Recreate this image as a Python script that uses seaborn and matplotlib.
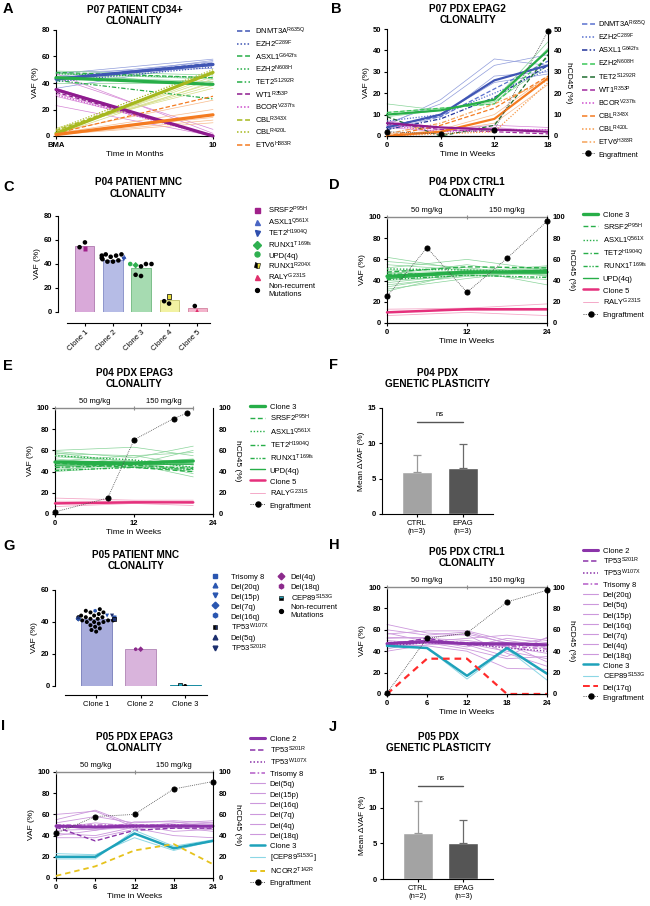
import numpy as np
import pandas as pd
import seaborn as sns
import matplotlib.pyplot as plt
from matplotlib.lines import Line2D
from matplotlib.markers import MarkerStyle

sns.set_style("ticks")
plt.rcParams['font.family'] = ['Liberation Sans', 'DejaVu Sans']
plt.rcParams['mathtext.fontset'] = 'custom'
plt.rcParams['mathtext.rm'] = 'Liberation Sans'
plt.rcParams['mathtext.it'] = 'Liberation Sans:italic'
plt.rcParams['mathtext.bf'] = 'Liberation Sans:bold'
plt.rcParams['axes.linewidth'] = 0.8
plt.rcParams['axes.edgecolor'] = 'black'
plt.rcParams['xtick.color'] = 'black'
plt.rcParams['ytick.color'] = 'black'
plt.rcParams['text.color'] = 'black'
plt.rcParams['axes.labelcolor'] = 'black'


def sup(name, variant):
    return name + r'$^{\mathregular{' + variant + '}}$'


# ---------------- data ----------------
# A  P07 patient CD34+
a_time = [0, 10]
a_time_labels = ['BMA', '10']
a_blue_thin = [[47, 58], [45, 56], [36, 55], [44, 53], [48, 51], [42, 57]]
a_green_thin = [[48, 38], [45, 41], [47, 43], [40, 40], [49, 46]]
a_purple_thin = [[47, 2], [23, 0], [32, 0], [30, 1], [36, 0], [44, 5]]
a_olive_thin = [[3, 43], [4, 40], [2, 45], [5, 38], [6, 36], [1, 41]]
a_orange_thin = [[1, 10], [2, 14], [1, 12], [3, 27], [2, 20]]
a_clone_vals = [[43, 54], [44, 39], [35, 0], [2, 48], [1, 16]]
a_named_labels = [sup('DNMT3A', 'R635Q'), sup('EZH2', 'C289F'), sup('ASXL1', 'G642fs'),
                  sup('EZH2', 'N608H'), sup('TET2', 'S1292R'), sup('WT1', 'R353P'),
                  sup('BCOR', 'V237fs'), sup('CBL', 'R343X'), sup('CBL', 'R420L'),
                  sup('ETV6', 'H383R')]
a_named_vals = [[43, 55], [41, 52], [48, 44], [47, 44], [42, 28], [33, 0], [31, 0],
                [4, 47], [5, 50], [2, 30]]

# B  P07 PDX EPAG2
b_time = [0, 6, 12, 18]
b_engraft = [2, 1, 3, 49]
b_blue_thin = [[5, 17, 36, 33], [6, 15, 33, 38], [4, 10, 25, 29], [3, 9, 28, 30]]
b_green_thin = [[15, 12, 17, 44], [9, 12, 16, 33], [11, 13, 15, 41]]
b_orange_thin = [[0, 3, 10, 28], [1, 2, 6, 24]]
b_purple_thin = [[5, 3, 5, 4], [7, 4, 3, 3], [4, 2, 4, 2]]
b_clone_vals = [[4, 10, 26, 33], [10, 12, 17, 40], [0, 2, 8, 27], [6, 4, 3, 2]]
b_named_labels = a_named_labels
b_named_vals = [[5, 9, 22, 35], [7, 10, 20, 31], [3, 8, 18, 33], [11, 13, 15, 37],
                [9, 0, 5, 38], [6, 3, 2, 1], [5, 2, 3, 3], [0, 5, 13, 28],
                [0, 1, 2, 25], [1, 6, 15, 26]]

# C  P04 patient MNC
c_clones = ['Clone 1', 'Clone 2', 'Clone 3', 'Clone 4', 'Clone 5']
c_vaf = [55, 43, 37, 10, 3]
c_nonrec_vaf = [[58, 54], [48, 48, 47, 46, 45, 44, 43, 42, 42, 47], [40, 40, 38, 31, 30],
                [7, 9], [5]]
c_mut_labels = [sup('SRSF2', 'P95H'), sup('ASXL1', 'Q561X'), sup('TET2', 'H1904Q'),
                sup('RUNX1', 'T169fs'), 'UPD(4q)', sup('RUNX1', 'R204X'), sup('RALY', 'G231S')]
c_mut_clone = [0, 1, 1, 2, 2, 3, 4]
c_mut_vaf = [53, 46, 44, 39, 40, 13, 1]

# D  P04 PDX CTRL1
d_time = [0, 12, 24]
d_engraft_time = [0, 6, 12, 18, 24]
d_engraft = [25, 71, 29, 61, 96]
d_dose = [0, 12, 24]
d_green_thin = [[62, 50, 36], [58, 52, 45], [52, 60, 50], [50, 48, 54], [48, 46, 52],
                [46, 55, 44], [44, 48, 46], [42, 50, 50], [40, 45, 47], [38, 46, 41],
                [36, 44, 48], [34, 46, 53], [32, 42, 50], [30, 48, 45], [55, 50, 47]]
d_clone3 = [44, 48, 48]
d_named_vals = [[48, 53, 52], [51, 50, 48], [46, 47, 50], [41, 45, 43], [42, 47, 50]]
d_clone5 = [10, 13, 13]
d_raly = [[13, 14, 18], [11, 12, 12], [7, 10, 7]]

# E  P04 PDX EPAG3
e_time = [0, 12, 21]
e_engraft_time = [0, 8, 12, 18, 20]
e_engraft = [2, 15, 70, 90, 95]
e_dose = [0, 12, 21]
e_green_thin = [[60, 63, 55], [59, 53, 64], [58, 48, 52], [56, 47, 60], [54, 50, 44],
                [52, 45, 48], [50, 55, 46], [47, 46, 42], [45, 44, 49], [43, 50, 38],
                [42, 47, 35], [41, 48, 40], [40, 45, 44], [57, 55, 58]]
e_clone3 = [49, 48, 50]
e_named_vals = [[48, 44, 40], [55, 51, 44], [44, 46, 43], [41, 44, 42], [46, 47, 47]]
e_clone5 = [10, 11, 11]
e_raly = [[15, 13, 13], [12, 12, 10], [7, 10, 8]]

de_labels = ['Clone 3', sup('SRSF2', 'P95H'), sup('ASXL1', 'Q561X'), sup('TET2', 'H1904Q'),
             sup('RUNX1', 'T169fs'), 'UPD(4q)', 'Clone 5', sup('RALY', 'G231S'), 'Engraftment']
dose_labels = ['50 mg/kg', '150 mg/kg']

# F / J  genetic plasticity
f_groups = ['CTRL\n(n=3)', 'EPAG\n(n=3)']
f_mean = [6.0, 6.5]
f_err = [2.4, 3.4]
f_ns = 13
j_groups = ['CTRL\n(n=2)', 'EPAG\n(n=3)']
j_mean = [6.4, 5.1]
j_err = [4.6, 3.2]
j_ns = 13

# G  P05 patient MNC
g_clones = ['Clone 1', 'Clone 2', 'Clone 3']
g_vaf = [42, 23, 0.5]
g_nonrec_vaf = [[42, 42, 41, 40, 40, 43, 44, 45, 46, 47, 48, 46, 44, 43, 42, 41, 39, 38,
                 37, 36, 35, 34, 43, 40, 41], [], [0]]
g_mut_labels = ['Trisomy 8', 'Del(20q)', 'Del(15p)', 'Del(7q)', 'Del(16q)',
                sup('TP53', 'W107X'), 'Del(5q)', sup('TP53', 'S201R'),
                'Del(4q)', 'Del(18q)', sup('CEP89', 'S153G')]
g_mut_clone = [0, 0, 0, 0, 0, 0, 0, 0, 1, 1, 2]
g_mut_vaf = [43, 43, 44, 42, 47, 42, 43, 44, 23, 23, 0.5]

# H  P05 PDX CTRL1
h_time = [0, 6, 12, 18, 24]
h_engraft = [1, 52, 57, 86, 97]
h_dose = [0, 12, 24]
h_purple_thin = [[65, 57, 55, 38, 26], [60, 55, 58, 47, 30], [56, 59, 59, 50, 45],
                 [53, 52, 50, 45, 52], [50, 47, 48, 44, 38], [48, 50, 46, 35, 53],
                 [46, 45, 40, 24, 23], [44, 48, 42, 33, 35], [42, 50, 44, 52, 48],
                 [52, 53, 56, 48, 43], [40, 46, 47, 40, 33], [57, 49, 52, 55, 50]]
h_clone2 = [47, 49, 47, 47, 46]
h_named_vals = [[46, 52, 46, 46, 45], [45, 48, 47, 43, 40], [48, 50, 48, 45, 42]]
h_clone3 = [45, 43, 17, 43, 19]
h_cep89 = [[45, 43, 14, 42, 13]]
h_del17q = [0, 33, 33, 0, 0]
h_labels = ['Clone 2', sup('TP53', 'S201R'), sup('TP53', 'W107X'), 'Trisomy 8', 'Del(20q)',
            'Del(5q)', 'Del(15p)', 'Del(16q)', 'Del(7q)', 'Del(4q)', 'Del(18q)', 'Clone 3',
            sup('CEP89', 'S153G'), 'Del(17q)', 'Engraftment']

# I  P05 PDX EPAG3
i_time = [0, 6, 12, 18, 24]
i_engraft = [42, 58, 60, 84, 91]
i_dose = [0, 12, 24]
i_purple_thin = [[60, 63, 48, 50, 52], [55, 64, 50, 44, 46], [52, 58, 52, 54, 52],
                 [50, 45, 53, 53, 48], [45, 46, 47, 40, 38], [42, 40, 48, 52, 54],
                 [40, 45, 50, 48, 44], [38, 38, 46, 50, 46], [47, 52, 49, 47, 50]]
i_clone2 = [49, 48, 49, 49, 49]
i_named_vals = [[48, 35, 45, 47, 47], [47, 49, 48, 50, 48], [50, 50, 50, 50, 48]]
i_clone3 = [20, 20, 42, 28, 35]
i_cep89 = [[23, 22, 38, 26, 35], [18, 18, 45, 30, 36]]
i_ncor2 = [2, 11, 26, 32, 13]
i_labels = ['Clone 2', sup('TP53', 'S201R'), sup('TP53', 'W107X'), 'Trisomy 8', 'Del(5q)',
            'Del(15p)', 'Del(16q)', 'Del(7q)', 'Del(4q)', 'Del(18q)', 'Clone 3',
            '[' + sup('CEP89', 'S153G') + ']', sup('NCOR2', 'T142R'), 'Engraftment']

# ---------------- styles ----------------
BLUE, BLUE_T = '#3f55b4', '#8f9cdb'
GREEN, GREEN_T = '#27ae48', '#8ad49a'
PURPLE, PURPLE_T = '#8e1b8e', '#d585d5'
OLIVE, OLIVE_T = '#a6b81e', '#d5de88'
ORANGE, ORANGE_T = '#f47b20', '#f8bb8c'
PINK, PINK_T = '#e5307c', '#f4a9c8'
VIOLET, VIOLET_T = '#8b34a9', '#cc98dc'
TEAL, TEAL_T = '#1ea2ba', '#8cd7e5'
RED, YELLOW = '#ff2b2b', '#e6c21c'

DASH = (0, (3.5, 1.8))
DOT = (0, (1, 1.3))
DASHDOT = (0, (3.5, 1.5, 1, 1.5))
DASHDOTDOT = (0, (3, 1.2, 1, 1.2, 1, 1.2))

W, H, DPI = 650, 906, 100
fig = plt.figure(figsize=(W / DPI, H / DPI), dpi=DPI)
fig.patch.set_facecolor('white')


def add_ax(l, t, r, b):
    return fig.add_axes([l / W, 1 - b / H, (r - l) / W, (b - t) / H])


def draw(ax, x, rows, color, lw, ls='-', z=2):
    df = pd.DataFrame({'t': np.tile(x, len(rows)), 'v': np.ravel(rows),
                       'id': np.repeat(np.arange(len(rows)), len(x))})
    sns.lineplot(data=df, x='t', y='v', units='id', estimator=None, color=color, lw=lw,
                 ls=ls, ax=ax, legend=False, zorder=z, clip_on=False)


def bold_ticks(ax, xbold=True):
    ax.tick_params(labelsize=5.5, length=2.5, width=0.8, pad=1.5)
    for t in ax.get_yticklabels():
        t.set_fontweight('bold')
    if xbold:
        for t in ax.get_xticklabels():
            t.set_fontweight('bold')


def frame(ax, xlim, xticks, xlabels, ylim, yticks, xlabel):
    ax.set_xlim(xlim)
    ax.set_ylim(ylim)
    ax.set_xticks(xticks, xlabels)
    ax.set_yticks(yticks)
    ax.set_xlabel(xlabel, fontsize=6, labelpad=2)
    ax.set_ylabel('VAF (%)', fontsize=6, labelpad=2)
    sns.despine(ax=ax)
    bold_ticks(ax)


def engraft(ax, t, v, ylim, yticks):
    ax2 = ax.twinx()
    sns.lineplot(x=t, y=v, ax=ax2, color='#4a4a4a', lw=0.6, ls=DOT, marker='o',
                 markersize=3.6, mfc='black', mec='black', zorder=5, clip_on=False)
    ax2.set_ylim(ylim)
    ax2.set_yticks(yticks)
    ax2.set_ylabel('hCD45 (%)', rotation=270, fontsize=6, labelpad=7)
    sns.despine(ax=ax2, left=True, right=False)
    bold_ticks(ax2)
    return ax2


def dose_bar(ax, bounds):
    ax.plot(bounds, [100] * len(bounds), color='#8c8c8c', lw=1.0, marker='|', ms=3,
            mew=0.8, clip_on=False, zorder=6)
    mids = (np.array(bounds[:-1]) + np.array(bounds[1:])) / 2
    for m, txt in zip(mids, dose_labels):
        ax.text(m, 102.5, txt, ha='center', va='bottom', fontsize=5.5)


def L(color, lw=1.1, ls='-', **kw):
    return Line2D([], [], color=color, lw=lw, ls=ls, **kw)


ENG = Line2D([], [], color='#4a4a4a', lw=0.7, ls=DOT, marker='o', ms=3.6,
             mfc='black', mec='black')


def put_legend(ax, handles, labels, x, y, pitch, hl=1.8, htp=0.65, fs=5.5):
    fpx = fs * DPI / 72
    hh = 1.5
    lg = ax.legend(handles, labels, loc='upper left', bbox_to_anchor=(x / W, 1 - y / H),
                   bbox_transform=fig.transFigure, frameon=False, fontsize=fs,
                   handlelength=hl, handleheight=hh, handletextpad=htp,
                   labelspacing=max(pitch - hh * fpx, 0) / fpx, borderpad=0,
                   borderaxespad=0)
    return lg


def title(ax, txt, pad):
    ax.set_title(txt, fontsize=7.2, fontweight='bold', pad=pad, linespacing=1.15)


def marker_path(m):
    ms = MarkerStyle(m)
    return ms.get_path().transformed(ms.get_transform())


def swarm(ax, clones, nonrec, mclone, mvaf, mlabels, mcolors, mmarkers, medge, size):
    rows = []
    for ci, vals in enumerate(nonrec):
        rows += [(clones[ci], v, 'nonrec') for v in vals]
    rows += [(clones[c], v, k) for c, v, k in zip(mclone, mvaf, mlabels)]
    df = pd.DataFrame(rows, columns=['clone', 'vaf', 'kind'])
    pal = dict(zip(mlabels, mcolors))
    pal['nonrec'] = 'black'
    mk = dict(zip(mlabels, mmarkers))
    mk['nonrec'] = 'o'
    ed = dict(zip(mlabels, medge))
    ed['nonrec'] = None
    n0 = len(ax.collections)
    sns.swarmplot(data=df, x='clone', y='vaf', hue='kind', palette=pal, order=clones,
                  size=size, ax=ax, legend=False, linewidth=0, zorder=3)
    for coll in ax.collections[n0:]:
        offs = coll.get_offsets()
        if len(offs) == 0:
            continue
        ci = int(round(offs[0][0]))
        sub = df[df['clone'] == clones[ci]]
        coll.set_paths([marker_path(mk[k]) for k in sub['kind']])
        coll.set_edgecolors([ed[k] if ed[k] else (0, 0, 0, 0) for k in sub['kind']])
        coll.set_linewidth(0.5)


def letter(x, y, s):
    fig.text(x / W, 1 - y / H, s, fontsize=10.5, fontweight='bold', va='center', ha='left')


# ---------------- A ----------------
axA = add_ax(56, 30, 213, 136)
for rows, c in zip([a_blue_thin, a_green_thin, a_purple_thin, a_olive_thin, a_orange_thin],
                   [BLUE_T, GREEN_T, PURPLE_T, OLIVE_T, ORANGE_T]):
    draw(axA, a_time, rows, c, 0.5)
a_colors = [BLUE, BLUE, GREEN, GREEN, GREEN, PURPLE, '#cc4fcc', OLIVE, OLIVE, ORANGE]
a_ls = [DASH, DOT, DASH, DOT, DASHDOT, DASH, DOT, DASH, DOT, DASH]
for vals, c, ls in zip(a_named_vals, a_colors, a_ls):
    draw(axA, a_time, [vals], c, 0.9, ls, z=3)
for vals, c in zip(a_clone_vals, [BLUE, GREEN, PURPLE, OLIVE, ORANGE]):
    draw(axA, a_time, [vals], c, 2.3, z=4)
frame(axA, (0, 10), a_time, a_time_labels, (0, 80), [0, 20, 40, 60, 80], 'Time in Months')
title(axA, 'P07 PATIENT CD34+\nCLONALITY', 4)
put_legend(axA, [L(c, 1.1, ls) for c, ls in zip(a_colors, a_ls)], a_named_labels,
           237, 26, 12.8, hl=1.7)
letter(3, 9, 'A')

# ---------------- B ----------------
axB = add_ax(387, 29, 548, 136)
for rows, c in zip([b_blue_thin, b_green_thin, b_orange_thin, b_purple_thin],
                   [BLUE_T, GREEN_T, ORANGE_T, PURPLE_T]):
    draw(axB, b_time, rows, c, 0.5)
b_colors = ['#5a72d0', '#5a72d0', '#22339a', '#3cc85a', '#1f6e30', '#a02a9e', '#d050d0',
            ORANGE, '#f79a4a', '#f5a35a']
b_ls = [DASH, DOT, DASHDOT, DASH, DASH, DASH, DOT, DASH, DOT, DASHDOT]
for vals, c, ls in zip(b_named_vals, b_colors, b_ls):
    draw(axB, b_time, [vals], c, 0.9, ls, z=3)
for vals, c in zip(b_clone_vals, [BLUE, GREEN, ORANGE, PURPLE]):
    draw(axB, b_time, [vals], c, 1.6, z=4)
frame(axB, (0, 18), b_time, b_time, (0, 50), [0, 10, 20, 30, 40, 50], 'Time in Weeks')
engraft(axB, b_time, b_engraft, (0, 50), [0, 10, 20, 30, 40, 50])
title(axB, 'P07 PDX EPAG2\nCLONALITY', 4)
put_legend(axB, [L(c, 1.1, ls) for c, ls in zip(b_colors, b_ls)] + [ENG],
           b_named_labels + ['Engraftment'], 582, 19, 12.8, hl=1.7, htp=0.5, fs=5.3)
letter(331, 9, 'B')

# ---------------- C ----------------
axC = add_ax(67, 216, 210, 312)
c_fill = ['#d9a9d9', '#b6bce6', '#a6dbb1', '#f2f2a2', '#f3b3cb']
c_edge = ['#b785b7', '#8e96cc', '#7cbf8a', '#c9c977', '#d98ea9']
sns.barplot(x=c_clones, y=c_vaf, hue=c_clones, palette=c_fill, legend=False, ax=axC,
            width=0.68, saturation=1, linewidth=0.7)
for p, ec in zip(axC.patches, c_edge):
    p.set_edgecolor(ec)
c_mcolors = ['#a0208a', '#4a66c4', '#2f4fae', '#2fb050', '#2fb050', '#e8de3a', '#e0306c']
c_mmarkers = ['s', '^', 'v', 'D', 'o', 's', '^']
c_medge = [None, None, None, None, None, 'black', None]
swarm(axC, c_clones, c_nonrec_vaf, c_mut_clone, c_mut_vaf, c_mut_labels, c_mcolors,
      c_mmarkers, c_medge, 3.3)
sns.despine(ax=axC)
axC.spines['left'].set_position(('outward', 6.5))
axC.spines['bottom'].set_position(('outward', 8))
axC.set_xlim(-0.64, 4.46)
axC.set_ylim(0, 80)
axC.set_yticks([0, 20, 40, 60, 80])
axC.set_xticks(range(len(c_clones)), c_clones, rotation=45, ha='right',
               rotation_mode='anchor')
axC.set_xlabel('')
axC.set_ylabel('VAF (%)', fontsize=6, labelpad=2)
bold_ticks(axC, xbold=False)
title(axC, 'P04 PATIENT MNC\nCLONALITY', 14)
c_hmk = [dict(marker=m, color=c) for m, c in zip(c_mmarkers, c_mcolors)]
c_handles = [Line2D([], [], ls='none', ms=3.6, **kw) for kw in c_hmk]
c_handles[5] = Line2D([], [], ls='none', marker='s', ms=3.6, fillstyle='left',
                      mfc='black', mfcalt='#e8de3a', mec='black', mew=0.4)
c_handles.append(Line2D([], [], ls='none', marker='o', ms=2.8, color='black'))
put_legend(axC, c_handles, c_mut_labels + ['Non-recurrent\nMutations'], 253, 205, 11.6,
           hl=1.0, htp=1.0)
letter(3, 187, 'C')

# ---------------- D / E ----------------
de_colors = [GREEN, GREEN, GREEN, GREEN, GREEN, GREEN, PINK, PINK_T]
de_ls = ['-', DASH, DOT, DASHDOT, DASHDOTDOT, '-', '-', '-']
de_lw = [2.4, 1.0, 1.0, 1.0, 1.0, 1.0, 1.8, 0.7]


def de_panel(ax, t, green_thin, clone3, named, clone5, raly, et, ev, dose, ttl, lx, ly,
             pitch):
    draw(ax, t, green_thin, GREEN_T, 0.5)
    draw(ax, t, raly, PINK_T, 0.6)
    for vals, ls in zip(named, de_ls[1:6]):
        draw(ax, t, [vals], GREEN, 1.0, ls, z=3)
    draw(ax, t, [clone3], GREEN, 2.4, z=4)
    draw(ax, t, [clone5], PINK, 1.8, z=4)
    frame(ax, (0, 24), [0, 12, 24], [0, 12, 24], (0, 100), [0, 20, 40, 60, 80, 100],
          'Time in Weeks')
    engraft(ax, et, ev, (0, 100), [0, 20, 40, 60, 80, 100])
    dose_bar(ax, dose)
    title(ax, ttl, 15)
    put_legend(ax, [L(c, w, ls) for c, w, ls in zip(de_colors, de_lw, de_ls)] + [ENG],
               de_labels, lx, ly, pitch, hl=2.0, htp=0.6)


axD = add_ax(387, 217, 547, 323)
de_panel(axD, d_time, d_green_thin, d_clone3, d_named_vals, d_clone5, d_raly,
         d_engraft_time, d_engraft, d_dose, 'P04 PDX CTRL1\nCLONALITY', 583, 210, 13.4)
letter(329, 185, 'D')

axE = add_ax(55, 408, 213, 514)
de_panel(axE, e_time, e_green_thin, e_clone3, e_named_vals, e_clone5, e_raly,
         e_engraft_time, e_engraft, e_dose, 'P04 PDX EPAG3\nCLONALITY', 250, 402, 13.25)
letter(3, 366, 'E')


# ---------------- F / J ----------------
def delta_panel(ax, groups, mean, err, ns, ttl):
    sns.barplot(x=groups, y=mean, hue=groups, palette=['#a3a3a3', '#555555'], legend=False,
                ax=ax, width=0.65, saturation=1)
    for i, (m, e, c) in enumerate(zip(mean, err, ['#9a9a9a', '#6a6a6a'])):
        ax.errorbar([i], [m], yerr=[[0], [e]], fmt='none', ecolor=c, elinewidth=0.9,
                    capsize=3.2, capthick=0.9, zorder=1)
    ax.plot([0, 1], [ns, ns], color='#555555', lw=1.0)
    ax.text(0.5, ns + 0.6, 'ns', ha='center', va='bottom', fontsize=5.5)
    ax.set_xlim(-0.76, 1.65)
    ax.set_ylim(0, 15)
    ax.set_yticks([0, 5, 10, 15])
    ax.set_xlabel('')
    ax.set_ylabel('Mean \u0394VAF (%)', fontsize=6, labelpad=2)
    sns.despine(ax=ax)
    bold_ticks(ax, xbold=False)
    title(ax, ttl, 15)


axF = add_ax(382, 408, 493, 514)
delta_panel(axF, f_groups, f_mean, f_err, f_ns, 'P04 PDX\nGENETIC PLASTICITY')
letter(329, 365, 'F')

axJ = add_ax(383, 772, 493, 879)
delta_panel(axJ, j_groups, j_mean, j_err, j_ns, 'P05 PDX\nGENETIC PLASTICITY')
letter(329, 727, 'J')

# ---------------- G ----------------
axG = add_ax(65, 590, 207, 686)
sns.barplot(x=g_clones, y=g_vaf, hue=g_clones, palette=['#a8acdc', '#d9b4dc', '#2aa8c0'],
            legend=False, ax=axG, width=0.7, saturation=1, linewidth=0.7)
for p, ec in zip(axG.patches, ['#8288c0', '#b88fbc', '#1a8ca2']):
    p.set_edgecolor(ec)
g_mcolors = ['#2a56b0', '#2a56b0', '#2a56b0', '#2a56b0', '#2a56b0', '#1c2f6e', '#1c2f6e',
             '#1c2f6e', '#8c2a8c', '#8c2a8c', '#1ea2ba']
g_mmarkers = ['s', '^', 'v', 'D', 'h', 's', '^', 'v', 'D', 'h', 's']
g_medge = [None, None, None, None, None, 'black', None, None, None, None, 'black']
swarm(axG, g_clones, g_nonrec_vaf, g_mut_clone, g_mut_vaf, g_mut_labels, g_mcolors,
      g_mmarkers, g_medge, 2.9)
sns.despine(ax=axG)
axG.spines['left'].set_position(('outward', 7))
axG.spines['bottom'].set_position(('outward', 6.5))
axG.set_xlim(-0.70, 2.49)
axG.set_ylim(0, 60)
axG.set_yticks([0, 20, 40, 60])
axG.set_xticks(range(len(g_clones)), g_clones)
axG.set_xlabel('')
axG.set_ylabel('VAF (%)', fontsize=6, labelpad=2)
bold_ticks(axG, xbold=False)
title(axG, 'P05 PATIENT MNC\nCLONALITY', 15)
g_handles = [Line2D([], [], ls='none', marker=m, color=c, ms=3.4)
             for m, c in zip(g_mmarkers, g_mcolors)]
g_handles[5] = Line2D([], [], ls='none', marker='s', ms=3.4, fillstyle='left',
                      mfc='black', mfcalt='#1c2f6e', mec='black', mew=0.4)
g_handles[10] = Line2D([], [], ls='none', marker='s', ms=3.4, fillstyle='bottom',
                       mfc='black', mfcalt='#1ea2ba', mec='black', mew=0.4)
g_handles.append(Line2D([], [], ls='none', marker='o', ms=2.8, color='black'))
g_labels = g_mut_labels + ['Non-recurrent\nMutations']
lg1 = put_legend(axG, g_handles[:8], g_labels[:8], 211, 572, 12.0, hl=1.0, htp=1.6)
axG.add_artist(lg1)
put_legend(axG, g_handles[8:], g_labels[8:], 277, 572, 12.3, hl=1.0, htp=0.8)
letter(3, 546, 'G')


# ---------------- H / I ----------------
def hi_handles(n_del, last_color):
    hs = [L(VIOLET, 2.2), L(VIOLET, 1.1, DASH), L(VIOLET, 1.1, DOT), L('#b45cc8', 1.1, DASHDOT)]
    hs += [L(VIOLET_T, 0.8) for _ in range(n_del)]
    hs += [L(TEAL, 1.8), L(TEAL_T, 0.8), L(last_color, 1.4, DASH), ENG]
    return hs


axH = add_ax(387, 587, 547, 694)
draw(axH, h_time, h_purple_thin, VIOLET_T, 0.6)
for vals, c, ls in zip(h_named_vals, [VIOLET, VIOLET, '#b45cc8'], [DASH, DOT, DASHDOT]):
    draw(axH, h_time, [vals], c, 1.0, ls, z=3)
draw(axH, h_time, [h_clone2], VIOLET, 2.2, z=4)
draw(axH, h_time, h_cep89, TEAL_T, 0.7, z=3)
draw(axH, h_time, [h_clone3], TEAL, 1.8, z=4)
draw(axH, h_time, [h_del17q], RED, 1.6, (0, (3, 2.2)), z=4)
frame(axH, (0, 24), h_time, h_time, (0, 100), [0, 20, 40, 60, 80, 100], 'Time in Weeks')
engraft(axH, h_time, h_engraft, (0, 100), [0, 20, 40, 60, 80, 100])
dose_bar(axH, h_dose)
title(axH, 'P05 PDX CTRL1\nCLONALITY', 15)
put_legend(axH, hi_handles(7, RED), h_labels, 583, 546, 12.2, hl=2.0, htp=0.6)
letter(329, 545, 'H')

axI = add_ax(56, 772, 213, 878)
draw(axI, i_time, i_purple_thin, VIOLET_T, 0.6)
for vals, c, ls in zip(i_named_vals, [VIOLET, VIOLET, '#b45cc8'], [DASH, DOT, DASHDOT]):
    draw(axI, i_time, [vals], c, 1.0, ls, z=3)
draw(axI, i_time, [i_clone2], VIOLET, 2.2, z=4)
draw(axI, i_time, i_cep89, TEAL_T, 0.7, z=3)
draw(axI, i_time, [i_clone3], TEAL, 1.8, z=4)
draw(axI, i_time, [i_ncor2], YELLOW, 1.3, (0, (3, 2.2)), z=4)
frame(axI, (0, 24), i_time, i_time, (0, 100), [0, 20, 40, 60, 80, 100], 'Time in Weeks')
engraft(axI, i_time, i_engraft, (0, 100), [0, 20, 40, 60, 80, 100])
dose_bar(axI, i_dose)
title(axI, 'P05 PDX EPAG3\nCLONALITY', 15)
put_legend(axI, hi_handles(6, YELLOW), i_labels, 250, 734, 12.46, hl=2.0, htp=0.6)
letter(1, 726, 'I')

fig.savefig('out.png', dpi=DPI)
